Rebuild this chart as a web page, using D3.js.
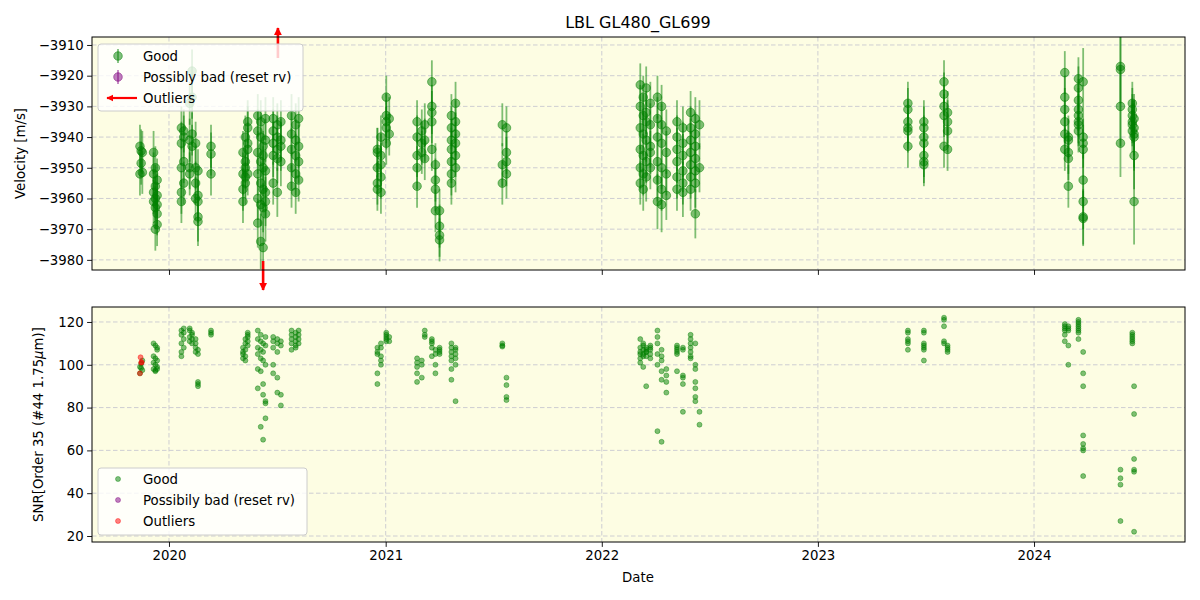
<!DOCTYPE html>
<html>
<head>
<meta charset="utf-8">
<script src="https://cdn.jsdelivr.net/npm/d3@7"></script>
<style>
  body { margin: 0; background: #ffffff; }
  text { font-family: "DejaVu Sans", sans-serif; }
</style>
</head>
<body>
<script>
// ---------------- DATA ----------------
const nightDates = [
  "2019-11-13","2019-11-15","2019-11-17","2019-12-06","2019-12-09","2019-12-12",
  "2020-01-22","2020-01-26","2020-02-05","2020-02-09","2020-02-15","2020-02-19","2020-03-12",
  "2020-05-05","2020-05-09","2020-05-13","2020-05-30","2020-06-04","2020-06-08","2020-06-12",
  "2020-06-25","2020-07-02","2020-07-08","2020-07-26","2020-08-02","2020-08-07",
  "2020-12-18","2020-12-24","2021-01-02","2021-01-07","2021-02-23","2021-03-03","2021-03-08",
  "2021-03-20","2021-03-26","2021-04-02","2021-04-22","2021-04-29","2021-07-17","2021-07-24",
  "2022-03-07","2022-03-12","2022-03-17","2022-03-24","2022-04-05","2022-04-12","2022-04-20",
  "2022-05-08","2022-05-18","2022-05-31","2022-06-08","2022-06-15",
  "2023-06-02","2023-06-29","2023-08-02","2023-08-08",
  "2024-02-22","2024-02-28","2024-03-16","2024-03-24","2024-05-26","2024-06-15","2024-06-18"
];
const nightRv = [
  [-3943,-3952],[-3944.5,-3948.5],[-3945,-3951.5],[-3945,-3952,-3958,-3961],
  [-3950,-3956,-3960,-3963,-3970],[-3954,-3959,-3962,-3965,-3968.5],
  [-3937,-3942,-3950,-3958,-3961],[-3940,-3948,-3955,-3938],[-3929,-3941,-3950,-3952],
  [-3918.5,-3927,-3943,-3939],[-3942,-3950,-3955,-3960],[-3961,-3966,-3967.5,-3959,-3951],
  [-3943,-3945.5,-3952],
  [-3945,-3952,-3957,-3961],[-3940,-3948,-3950,-3953,-3955],[-3935,-3937,-3942,-3944,-3952],
  [-3933,-3938,-3945,-3952,-3960,-3968],[-3935,-3940,-3948,-3955,-3962,-3974],
  [-3943,-3950,-3957,-3963,-3976,-3946],[-3934,-3941,-3951,-3958,-3961,-3965],
  [-3934,-3938,-3942,-3946,-3955],[-3936,-3940,-3944,-3947,-3958],[-3935,-3941,-3943,-3948],
  [-3933,-3939,-3944,-3950,-3956],[-3936,-3941,-3946,-3952,-3958],[-3934,-3948,-3954,-3943],
  [-3944,-3950,-3955,-3957,-3945],[-3940,-3946,-3949,-3953,-3958],[-3927,-3933,-3935,-3937,-3942],
  [-3934,-3939],[-3935,-3940,-3946,-3950,-3956],[-3938,-3942,-3945],[-3936,-3947,-3941],
  [-3922,-3930,-3932,-3935,-3944],[-3949,-3954,-3957,-3964],[-3964,-3969,-3972,-3973.5],
  [-3933,-3937,-3941,-3944,-3948,-3952,-3955],[-3929,-3935,-3939,-3942,-3946,-3950],
  [-3936,-3949,-3955],[-3937,-3945,-3948,-3952],
  [-3923,-3930,-3937,-3944,-3950,-3955],[-3927,-3933,-3939,-3946,-3952,-3957],
  [-3924,-3932,-3935,-3941,-3948,-3953],[-3929,-3936,-3943,-3950,-3945],
  [-3927,-3934,-3940,-3948,-3954,-3961],[-3930,-3936,-3942,-3950,-3957,-3962],
  [-3938,-3945,-3952,-3959],
  [-3935,-3940,-3944,-3948,-3953,-3957],[-3937,-3942,-3946,-3951,-3955,-3958],
  [-3932,-3937,-3941,-3945,-3949,-3953,-3957],[-3934,-3939,-3943,-3947,-3951,-3955,-3965],
  [-3936,-3950],
  [-3929,-3931,-3935,-3937,-3938,-3943],[-3935,-3937,-3940,-3942,-3946,-3948,-3949],
  [-3922,-3926,-3930,-3933,-3943],[-3932,-3935,-3938,-3944],
  [-3919,-3927,-3931,-3935,-3939,-3944],[-3940,-3941,-3945,-3947,-3956],
  [-3921,-3924,-3928,-3931,-3933,-3935,-3936,-3938],
  [-3940,-3942,-3944,-3954,-3961,-3966,-3966.5,-3922],
  [-3917,-3918,-3930,-3942],[-3929,-3931,-3933,-3935,-3936,-3938],
  [-3934,-3937,-3939,-3940,-3946,-3961]
];
const nightErr = [
  [7,7],[7,7],[7,7],[7,7,7,7],[7,7,7,7,7],[7,7,7,7,7],
  [7,7,7,7,7],[7,7,7,7],[7,7,7,7],[7,7,7,7],[7,7,7,7],[7,8,8,8,7],[7,7,7],
  [7,7,7,7],[7,7,7,7,7],[7,7,7,7,7],[7,7,7,7,7,8],[7,7,7,7,7,9],[7,7,7,8,10,8],[7,7,7,8,8,9],
  [7,7,7,7,7],[7,7,7,8,8],[7,7,8,8],[7,7,7,7,7],[7,7,7,7,7],[7,7,7,7],
  [7,7,7,7,8],[7,7,7,7,7],[7,7,7,7,7],[7,7],[7,7,7,7,7],[7,7,7],[7,7,7],
  [7,7,7,7,7],[7,7,7,7],[7,7,7,7],[7,7,7,7,7,7,7],[7,7,7,7,7,8],[7,7,7],[7,7,8,8],
  [7,7,7,7,7,7],[7,7,7,7,7,7],[7,7,7,7,7,8],[7,7,7,7,7],[7,7,7,7,7,9],[7,7,7,7,7,9],[7,7,7,8],
  [7,7,7,7,7,7],[7,7,7,7,7,8],[7,7,7,7,7,7,7],[7,7,7,7,7,8,8],[8,8],
  [7,7,7,7,7,7],[7,7,7,7,7,7,7],[7,7,7,7,7],[7,7,7,7],
  [7,7,7,7,7,7],[7,7,7,7,7],[7,7,7,7,7,7,7,7],[7,8,8,9,9,9,9,11],
  [12,13,13,11],[7,7,7,7,7,7],[8,9,11,11,11,14]
];
const nightSnr = [
  [99,96],[100.5,98.5],[102,97.5],[110,104,101,98],[109,103,100,97.5,97],[108,107,102,99,98],
  [116,114,110,106,104],[115,112,108,117],[117,116,113,111],[112,114,110,115],[112,110,108,106],
  [105,92,90,91,107],[116,114,115],
  [108,106,105,103],[110,107,112,102,104],[115,114,113,111,109],[116,112,108,105,98,89],
  [114,111,107,103,97,71],[110,106,102,91,65,86],[113,109,100,83,82,75],
  [113,111,108,100,96],[112,110,106,94,87],[111,109,86,81],[116,114,112,110,107],
  [115,113,111,109,108],[114,112,110,116],
  [108,106,105,96,91],[104,102,110,108,100],[115,114,113,112,111],[113,111],
  [103,101,99,96,92],[102,100,94],[116,114,113],
  [112,111,110,108,104],[107,105,100,96],[108,107,106,105],[110,108,106,104,102,98,93],
  [108,107,105,103,100,83],[110,109,108.5],[94,90.5,85,83.5],
  [112,108,106,105,103,101],[110,109,107,105,104,99],[108,107,106,106,104,90],[109,108,107,105,103],
  [116,113,110,105,100,69],[107,104,102,97,93,64],[98,95,92,87],
  [109,108,107,106,105,97],[108,107,95,94,91,78],[114,112,110,108,106,104,103],
  [110,100,98,92,89,85,83],[78,72],
  [116,115,112,111,110,107],[116,115,110,109,108,107,102],[122,121,118,111,110],[109,108,107,106],
  [119,118,117,116,114,111],[118,117,116,109,100],[121,120,119,118,117,116,115,112],
  [106,96,90,67,63,61,60,48],[51,47,44,27],[115,114,113,112,111,110],[90,77,56,51,50,22]
];
// outliers (SNR panel only)
const outlierDates = ["2019-11-13","2019-11-14","2019-11-15","2019-11-16"];
const outlierSnr = [96, 103.5, 101, 101.2];
// outlier arrows (RV out of range)
const arrowDates = ["2020-07-03","2020-06-08"];
const arrowDirs = ["up","down"];

const rvTicks = [-3980,-3970,-3960,-3950,-3940,-3930,-3920,-3910];
const snrTicks = [20,40,60,80,100,120];
const yearTicks = ["2020-01-01","2021-01-01","2022-01-01","2023-01-01","2024-01-01"];
const yearLabels = ["2020","2021","2022","2023","2024"];

// ---------------- BUILD ----------------
const parse = d3.utcParse("%Y-%m-%d");
const pts = [];
nightDates.forEach((d, i) => {
  nightRv[i].forEach((v, j) => {
    pts.push({date: parse(d), rv: v, err: nightErr[i][j], snr: nightSnr[i][j]});
  });
});
const outs = outlierDates.map((d, i) => ({date: parse(d), snr: outlierSnr[i]}));

const W = 1200, H = 600;
const L = 92, R = 1185;
const topAx = {y0: 37, y1: 270};
const botAx = {y0: 307, y1: 542};
const bg = "#fdfde3";
const green = "#008000", purple = "#800080", red = "#ff0000";

const x = d3.scaleUtc().domain([parse("2019-08-24"), parse("2024-09-12")]).range([L, R]);
const yTop = d3.scaleLinear().domain([-3983.3, -3907.4]).range([topAx.y1, topAx.y0]);
const yBot = d3.scaleLinear().domain([17.2, 127]).range([botAx.y1, botAx.y0]);

const svg = d3.select("body").append("svg").attr("width", W).attr("height", H)
  .style("background", "#fff");

const defs = svg.append("defs");
defs.append("clipPath").attr("id", "clipTop").append("rect")
  .attr("x", L).attr("y", topAx.y0).attr("width", R - L).attr("height", topAx.y1 - topAx.y0);
defs.append("clipPath").attr("id", "clipBot").append("rect")
  .attr("x", L).attr("y", botAx.y0).attr("width", R - L).attr("height", botAx.y1 - botAx.y0);
const mk = defs.append("marker").attr("id", "ahead").attr("viewBox", "0 0 10 10")
  .attr("refX", 9).attr("refY", 5).attr("markerWidth", 3.2).attr("markerHeight", 3.2)
  .attr("markerUnits", "strokeWidth").attr("orient", "auto");
mk.append("path").attr("d", "M0,0 L10,5 L0,10 z").attr("fill", red);

function panel(ax, yScale, ticks, showXLabels) {
  const g = svg.append("g");
  g.append("rect").attr("x", L).attr("y", ax.y0).attr("width", R - L)
    .attr("height", ax.y1 - ax.y0).attr("fill", bg);
  // grid
  const gridG = g.append("g").attr("stroke", "#c8c8d0").attr("stroke-width", 0.9)
    .attr("stroke-dasharray", "4.5,2.5");
  ticks.forEach(t => gridG.append("line").attr("x1", L).attr("x2", R)
    .attr("y1", yScale(t)).attr("y2", yScale(t)));
  yearTicks.forEach(t => gridG.append("line").attr("x1", x(parse(t))).attr("x2", x(parse(t)))
    .attr("y1", ax.y0).attr("y2", ax.y1));
  // y axis
  const yAxis = d3.axisLeft(yScale).tickValues(ticks).tickSize(4.9).tickPadding(3.5)
    .tickFormat(d3.format("d"));
  const ya = svg.append("g").attr("transform", `translate(${L},0)`).call(yAxis);
  ya.select(".domain").remove();
  ya.selectAll("text").attr("font-size", 13.3).attr("fill", "#000")
    .attr("font-family", "DejaVu Sans").text(d => d < 0 ? "\u2212" + Math.abs(d) : d);
  ya.selectAll("line").attr("stroke", "#000").attr("stroke-width", 0.9);
  // x axis
  const xAxis = d3.axisBottom(x).tickValues(yearTicks.map(parse)).tickSize(4.9).tickPadding(3.5)
    .tickFormat((d, i) => showXLabels ? yearLabels[i] : "");
  const xa = svg.append("g").attr("transform", `translate(0,${ax.y1})`).call(xAxis);
  xa.select(".domain").remove();
  xa.selectAll("text").attr("font-size", 13.3).attr("fill", "#000").attr("font-family", "DejaVu Sans");
  xa.selectAll("line").attr("stroke", "#000").attr("stroke-width", 0.9);
  return g;
}

panel(topAx, yTop, rvTicks, false);
panel(botAx, yBot, snrTicks, true);

// top points with error bars
const tp = svg.append("g").attr("clip-path", "url(#clipTop)");
tp.selectAll("line.eb").data(pts).join("line").attr("class", "eb")
  .attr("x1", d => x(d.date)).attr("x2", d => x(d.date))
  .attr("y1", d => yTop(d.rv - d.err)).attr("y2", d => yTop(d.rv + d.err))
  .attr("stroke", green).attr("stroke-opacity", 0.5).attr("stroke-width", 1.8);
tp.selectAll("circle").data(pts).join("circle")
  .attr("cx", d => x(d.date)).attr("cy", d => yTop(d.rv)).attr("r", 4.3)
  .attr("fill", green).attr("fill-opacity", 0.5)
  .attr("stroke", green).attr("stroke-opacity", 0.5).attr("stroke-width", 1);

// bottom points
const bp = svg.append("g").attr("clip-path", "url(#clipBot)");
bp.selectAll("circle.g").data(pts).join("circle").attr("class", "g")
  .attr("cx", d => x(d.date)).attr("cy", d => yBot(d.snr)).attr("r", 2.5)
  .attr("fill", green).attr("fill-opacity", 0.5)
  .attr("stroke", green).attr("stroke-opacity", 0.5).attr("stroke-width", 0.8);
bp.selectAll("circle.o").data(outs).join("circle").attr("class", "o")
  .attr("cx", d => x(d.date)).attr("cy", d => yBot(d.snr)).attr("r", 2.5)
  .attr("fill", red).attr("fill-opacity", 0.5)
  .attr("stroke", red).attr("stroke-opacity", 0.5).attr("stroke-width", 0.8);

// outlier arrows
arrowDates.forEach((d, i) => {
  const xx = x(parse(d));
  let y1, y2;
  if (arrowDirs[i] === "up") { y1 = topAx.y0 + 21; y2 = topAx.y0 - 9; }
  else { y1 = topAx.y1 - 9; y2 = topAx.y1 + 20; }
  svg.append("line").attr("x1", xx).attr("x2", xx).attr("y1", y1).attr("y2", y2)
    .attr("stroke", red).attr("stroke-width", 2.6).attr("marker-end", "url(#ahead)");
});

// frames
[topAx, botAx].forEach(ax => {
  svg.append("rect").attr("x", L).attr("y", ax.y0).attr("width", R - L)
    .attr("height", ax.y1 - ax.y0).attr("fill", "none").attr("stroke", "#000").attr("stroke-width", 1);
});

// legends
function legendBox(x0, y0, w, h) {
  svg.append("rect").attr("x", x0).attr("y", y0).attr("width", w).attr("height", h)
    .attr("rx", 3).attr("fill", "#fff").attr("fill-opacity", 0.8)
    .attr("stroke", "#cccccc").attr("stroke-width", 1);
}
legendBox(98, 44, 205, 67);
const tLeg = [["Good", green], ["Possibly bad (reset rv)", purple], ["Outliers", red]];
tLeg.forEach((e, i) => {
  const cy = 56 + i * 21;
  if (i < 2) {
    svg.append("line").attr("x1", 118).attr("x2", 118).attr("y1", cy - 7).attr("y2", cy + 7)
      .attr("stroke", e[1]).attr("stroke-opacity", 0.5).attr("stroke-width", 1.8);
    svg.append("circle").attr("cx", 118).attr("cy", cy).attr("r", 4.3)
      .attr("fill", e[1]).attr("fill-opacity", 0.5)
      .attr("stroke", e[1]).attr("stroke-opacity", 0.5);
  } else {
    svg.append("line").attr("x1", 137).attr("x2", 107).attr("y1", cy).attr("y2", cy)
      .attr("stroke", red).attr("stroke-width", 2.2).attr("marker-end", "url(#ahead)");
  }
  svg.append("text").attr("x", 143).attr("y", cy + 5).attr("font-size", 13.3).text(e[0]);
});

legendBox(98, 468, 209, 67);
const bLeg = [["Good", green], ["Possibily bad (reset rv)", purple], ["Outliers", red]];
bLeg.forEach((e, i) => {
  const cy = 479 + i * 21;
  svg.append("circle").attr("cx", 118).attr("cy", cy).attr("r", 2.5)
    .attr("fill", e[1]).attr("fill-opacity", 0.5)
    .attr("stroke", e[1]).attr("stroke-opacity", 0.5).attr("stroke-width", 0.8);
  svg.append("text").attr("x", 143).attr("y", cy + 5).attr("font-size", 13.3).text(e[0]);
});

// titles and labels
svg.append("text").attr("x", 638).attr("y", 28).attr("text-anchor", "middle")
  .attr("font-size", 16).text("LBL GL480_GL699");
svg.append("text").attr("transform", `translate(25,${(topAx.y0 + topAx.y1) / 2}) rotate(-90)`)
  .attr("text-anchor", "middle").attr("font-size", 13.3).text("Velocity [m/s]");
const sl = svg.append("text").attr("transform", `translate(43,${(botAx.y0 + botAx.y1) / 2}) rotate(-90)`)
  .attr("text-anchor", "middle").attr("font-size", 13.3);
sl.append("tspan").text("SNR[Order 35 (#44 1.75");
sl.append("tspan").attr("font-style", "italic").text("\u03bc");
sl.append("tspan").text("m)]");
svg.append("text").attr("x", 638).attr("y", 582).attr("text-anchor", "middle")
  .attr("font-size", 13.3).text("Date");
</script>
</body>
</html>
